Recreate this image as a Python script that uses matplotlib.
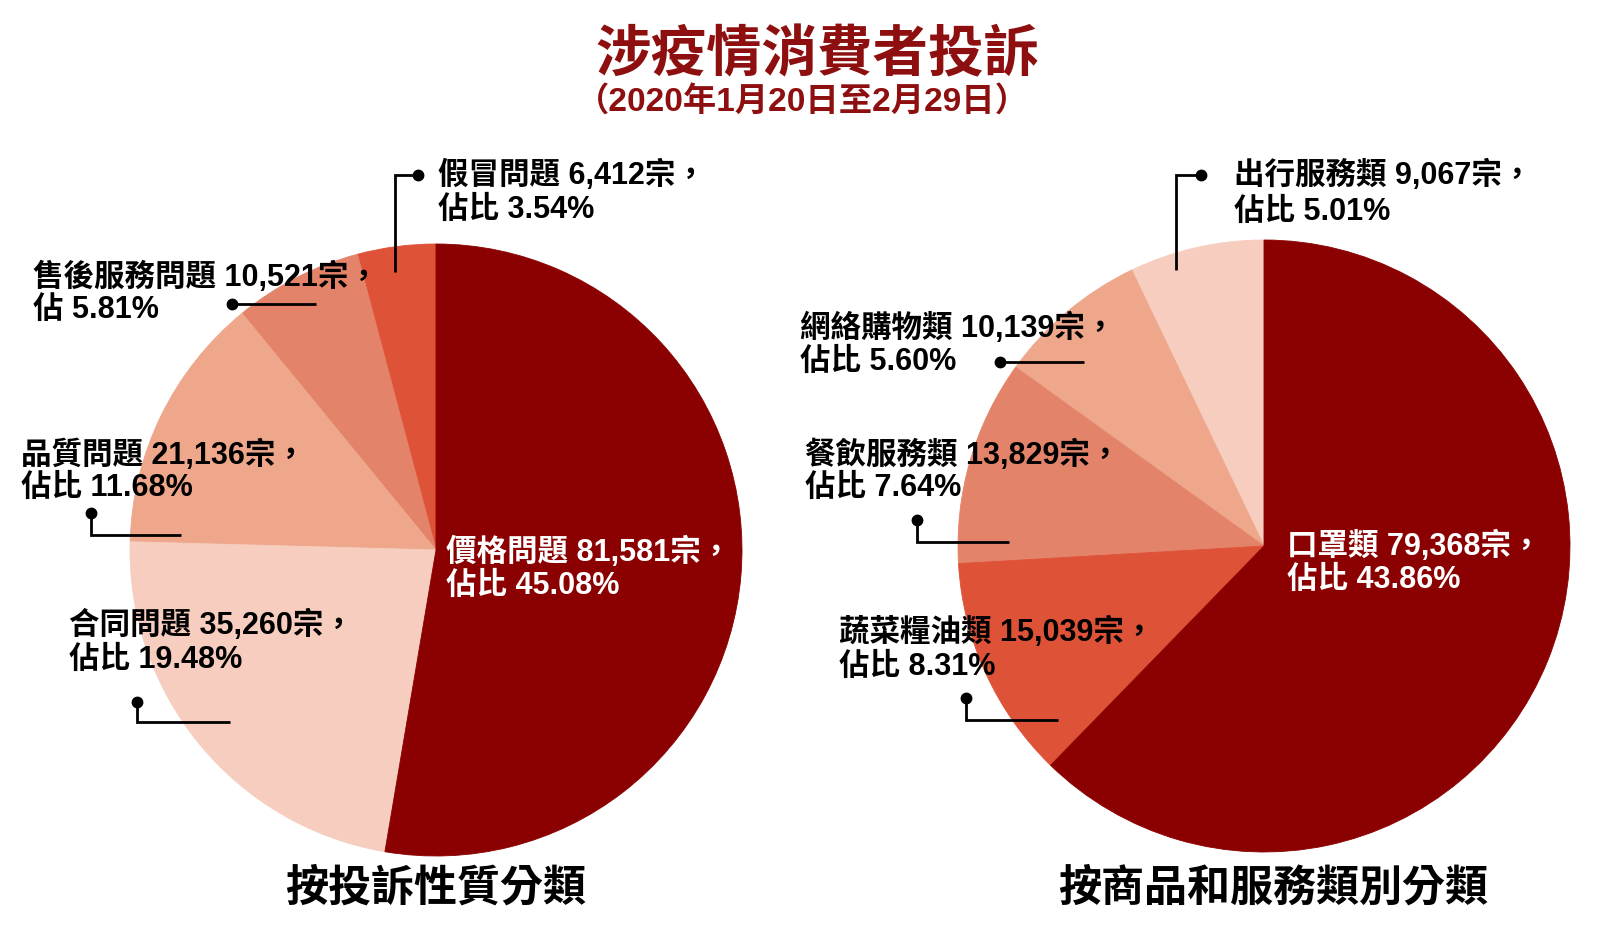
import matplotlib
matplotlib.use("Agg")
import matplotlib.pyplot as plt

plt.rcParams['font.family'] = ['Noto Sans CJK TC', 'DejaVu Sans']
MIX = ['Liberation Sans', 'Noto Sans CJK TC']

# ---------------- data (counter-clockwise from 12 o'clock) ----------------
left_names = ["假冒問題", "售後服務問題", "品質問題", "合同問題", "價格問題"]
left_counts = [6412, 10521, 21136, 35260, 81581]
left_pcts = [3.54, 5.81, 11.68, 19.48, 45.08]
left_pct_prefix = ["佔比", "佔", "佔比", "佔比", "佔比"]

right_names = ["出行服務類", "網絡購物類", "餐飲服務類", "蔬菜糧油類", "口罩類"]
right_counts = [9067, 10139, 13829, 15039, 79368]
right_pcts = [5.01, 5.60, 7.64, 8.31, 43.86]
right_pct_prefix = ["佔比", "佔比", "佔比", "佔比", "佔比"]

title = "涉疫情消費者投訴"
subtitle = "（2020年1月20日至2月29日）"
left_caption = "按投訴性質分類"
right_caption = "按商品和服務類別分類"

# ---------------- style ----------------
left_colors = ["#DE5238", "#E3836A", "#EFA78C", "#F6CDBE", "#8B0000"]
right_colors = ["#F6CDBE", "#EFA78C", "#E3836A", "#DE5238", "#8B0000"]
title_color = "#8E0F0F"

W, H = 1600, 951
fig = plt.figure(figsize=(W / 100, H / 100), dpi=100)
ax = fig.add_axes([0, 0, 1, 1])


def Y(y):
    return H - y


R = 306
left_center = (436, Y(550))
right_center = (1264, Y(546))

for vals, cols, cen in ((left_pcts, left_colors, left_center),
                        (right_pcts, right_colors, right_center)):
    wedges, _ = ax.pie(vals, colors=cols, startangle=90, counterclock=True,
                       center=cen, radius=R)
    for w, c in zip(wedges, cols):
        w.set_edgecolor(c)
        w.set_linewidth(0.6)

ax.set_xlim(0, W)
ax.set_ylim(0, H)
ax.set_aspect('equal')
ax.axis('off')


def label_lines(names, counts, pcts, prefixes):
    out = []
    for n, c, p, pre in zip(names, counts, pcts, prefixes):
        out.append((f"{n} {c:,}宗，", f"{pre} {p:.2f}%"))
    return out


left_labels = label_lines(left_names, left_counts, left_pcts, left_pct_prefix)
right_labels = label_lines(right_names, right_counts, right_pcts, right_pct_prefix)

# label layout: (x, y line1, y line2, color, leader path (first point gets the dot))
left_layout = [
    (438, 175, 210, 'black', [(418, 175), (395, 175), (395, 272)]),
    (33, 277, 310, 'black', [(232, 304), (316, 304)]),
    (21, 455, 488, 'black', [(91, 513), (91, 535), (181, 535)]),
    (69, 625, 660, 'black', [(137, 702), (137, 722), (230, 722)]),
    (446, 552, 586, 'white', None),
]
right_layout = [
    (1234, 175, 212, 'black', [(1201, 175), (1176, 175), (1176, 270)]),
    (800, 328, 362, 'black', [(1000, 362), (1084, 362)]),
    (805, 455, 488, 'black', [(917, 520), (917, 542), (1009, 542)]),
    (839, 632, 667, 'black', [(966, 698), (966, 720), (1058, 720)]),
    (1287, 546, 580, 'white', None),
]

FS = 22
for labels, layout in ((left_labels, left_layout), (right_labels, right_layout)):
    for (l1, l2), (x, y1, y2, col, path) in zip(labels, layout):
        ax.text(x, Y(y1), l1, fontsize=FS, fontweight='bold', color=col,
                ha='left', va='center', family=MIX)
        ax.text(x, Y(y2), l2, fontsize=FS, fontweight='bold', color=col,
                ha='left', va='center', family=MIX)
        if path:
            xs = [p[0] for p in path]
            ys = [Y(p[1]) for p in path]
            ax.plot(xs, ys, color='black', lw=2.0, solid_joinstyle='miter',
                    solid_capstyle='butt')
            ax.plot(xs[0], ys[0], 'o', color='black', markersize=7.5)

ax.text(817, Y(55), title, fontsize=40, fontweight='heavy', color=title_color,
        ha='center', va='center')
ax.text(802, Y(103), subtitle, fontsize=24, fontweight='bold', color=title_color,
        ha='center', va='center', family=MIX)
ax.text(436, Y(888), left_caption, fontsize=31, fontweight='heavy', color='black',
        ha='center', va='center')
ax.text(1273, Y(888), right_caption, fontsize=31, fontweight='heavy', color='black',
        ha='center', va='center')

fig.savefig("out.png", dpi=100, facecolor='white')
